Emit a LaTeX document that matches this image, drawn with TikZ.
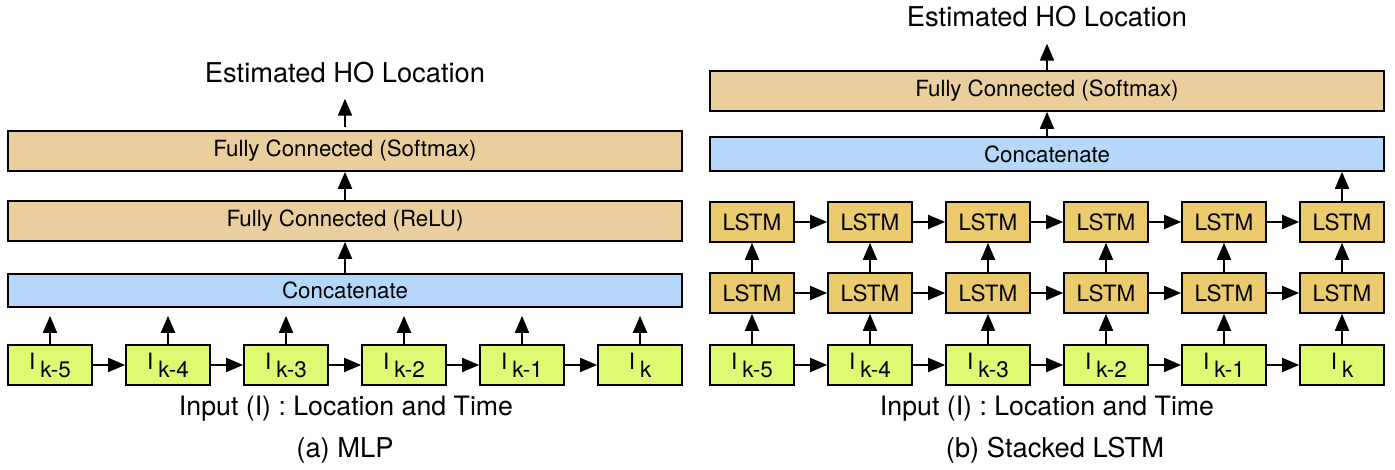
\documentclass[tikz,border=0pt]{standalone}
\usepackage{fontspec}
\setmainfont{TeX Gyre Heros}
\usetikzlibrary{arrows.meta,positioning}
\definecolor{ingreen}{RGB}{222,250,115}
\definecolor{lstmorange}{RGB}{235,203,110}
\definecolor{fctan}{RGB}{235,206,158}
\definecolor{catblue}{RGB}{181,216,250}
\newcommand{\inp}[1]{I\hspace{5pt}\raisebox{-8pt}{#1}}
\tikzset{
    %Define standard arrow tip
    >={Triangle[length=17pt,width=14pt]},
    %Define style for boxes
    inbox/.style={
           rectangle,
           draw=black, line width=1.7pt,
           fill=ingreen,
           minimum width=84pt,
           minimum height=40pt,
           inner sep=0pt,
           font=\fontsize{22.5}{26}\selectfont},
    lstmbox/.style={
           inbox,
           fill=lstmorange},
    layer/.style={
           rectangle,
           draw=black, line width=1.7pt,
           minimum width=674pt,
           minimum height=40pt,
           inner sep=0pt,
           font=\fontsize{22.3}{26}\selectfont},
    fclayer/.style={
           layer,
           fill=fctan},
    catlayer/.style={
           layer,
           fill=catblue,
           minimum height=33pt},
    caption/.style={
           inner sep=0pt,
           font=\fontsize{27.3}{31}\selectfont},
    inlabel/.style={
           caption,
           font=\fontsize{26.7}{31}\selectfont},
    % Define arrow style
    pil/.style={
           ->,
           line width=1.9pt}
}

\begin{document}
\begin{tikzpicture}[x=1pt,y=1pt]
         \useasboundingbox (0,0) rectangle (1395,470);
         %(a) MLP
          \node[inbox] (a1) at (50,105) {\inp{k-5}};
          \node[inbox, right=32.3pt of a1] (a2) {\inp{k-4}};
          \node[inbox, right=32.3pt of a2] (a3) {\inp{k-3}};
          \node[inbox, right=32.3pt of a3] (a4) {\inp{k-2}};
          \node[inbox, right=32.3pt of a4] (a5) {\inp{k-1}};
          \node[inbox, right=32.3pt of a5] (a6) {\inp{k}};
          \node[catlayer] (acat) at (345,179.5) {Concatenate};
          \node[fclayer, above=31.3pt of acat] (arelu) {Fully Connected (ReLU)};
          \node[fclayer, above=28.3pt of arelu] (asoft) {Fully Connected (Softmax)};
          \node[caption, above=46.5pt of asoft] (aout) {Estimated HO Location};
          \node[inlabel] (ain) at (346,61) {Input (I) : Location and Time};
          \node[caption] (acap) at (345,20) {(a) MLP};
          \foreach \i/\j in {1/2,2/3,3/4,4/5,5/6}
             \draw[pil] (a\i) -- (a\j);
          \foreach \i in {1,...,6}
             \draw[pil, shorten >=8pt] (a\i) -- (a\i |- acat.south);
          \draw[pil] (acat) -- (arelu);
          \draw[pil] (arelu) -- (asoft);
          \draw[pil, shorten <=3pt, shorten >=15pt] (asoft) -- (aout);
         %(b) Stacked LSTM
          \node[inbox] (b1) at (752,105) {\inp{k-5}};
          \node[inbox, right=32.3pt of b1] (b2) {\inp{k-4}};
          \node[inbox, right=32.3pt of b2] (b3) {\inp{k-3}};
          \node[inbox, right=32.3pt of b3] (b4) {\inp{k-2}};
          \node[inbox, right=32.3pt of b4] (b5) {\inp{k-1}};
          \node[inbox, right=32.3pt of b5] (b6) {\inp{k}};
          \foreach \i in {1,...,6}{
             \node[lstmbox, above=30.3pt of b\i] (lo\i) {LSTM};
             \node[lstmbox, above=29.3pt of lo\i] (up\i) {LSTM};
             \draw[pil] (b\i) -- (lo\i);
             \draw[pil] (lo\i) -- (up\i);
          }
          \foreach \i/\j in {1/2,2/3,3/4,4/5,5/6}{
             \draw[pil] (b\i) -- (b\j);
             \draw[pil] (lo\i) -- (lo\j);
             \draw[pil] (up\i) -- (up\j);
          }
          \node[catlayer, minimum height=34pt] (bcat) at (1047,316) {Concatenate};
          \node[fclayer, above=24.3pt of bcat] (bsoft) {Fully Connected (Softmax)};
          \node[caption, above=42.5pt of bsoft] (bout) {Estimated HO Location};
          \node[inlabel] (bin) at (1047,61) {Input (I) : Location and Time};
          \node[caption] (bcap) at (1055,20) {(b) Stacked LSTM};
          \draw[pil] (up6) -- (up6 |- bcat.south);
          \draw[pil] (bcat) -- (bsoft);
          \draw[pil, shorten >=16pt] (bsoft) -- (bout);
        \end{tikzpicture}
\end{document}
